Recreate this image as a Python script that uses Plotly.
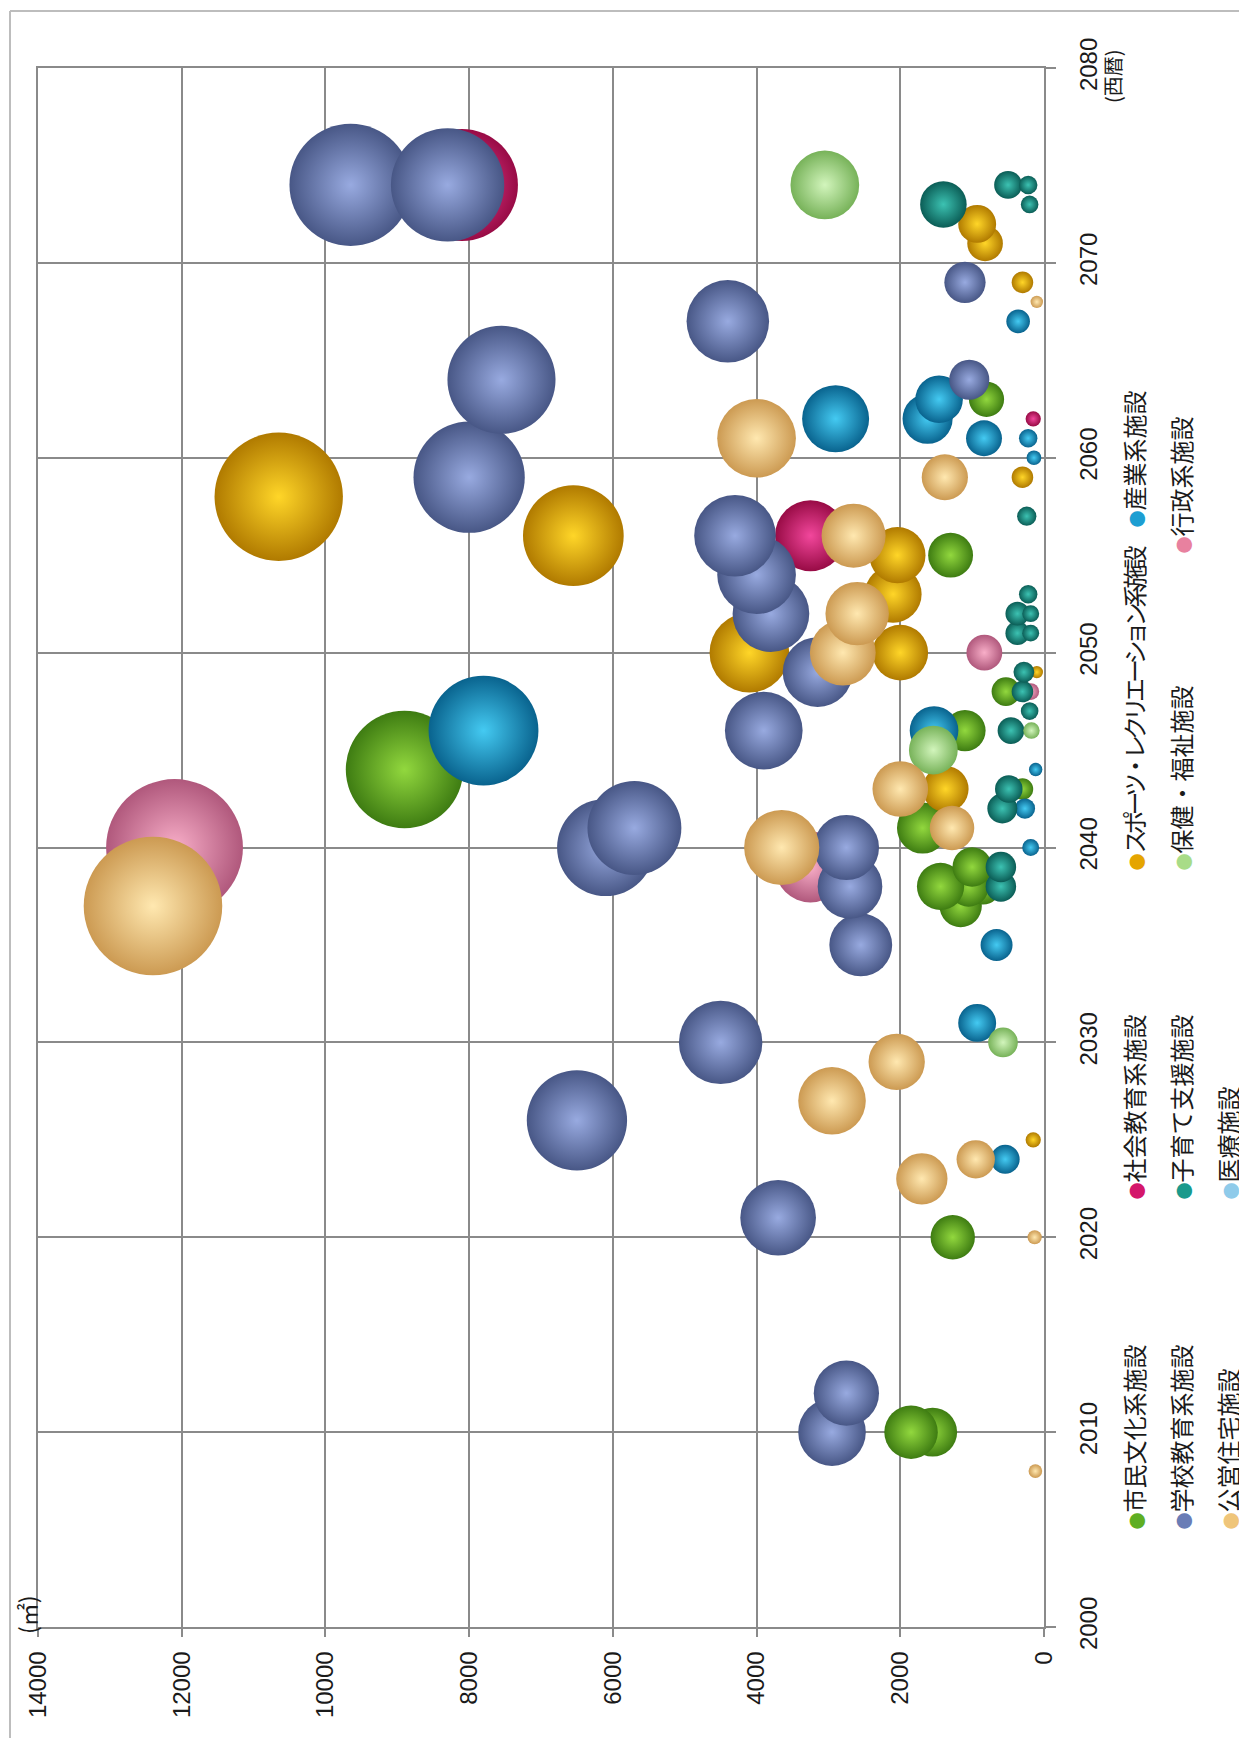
import numpy as np
import plotly.graph_objects as go

# ---------------- data (year, floor area m2) ----------------
year_ticks = [2000, 2010, 2020, 2030, 2040, 2050, 2060, 2070, 2080]
area_ticks = [0, 2000, 4000, 6000, 8000, 10000, 12000, 14000]

shimin_years = [2010, 2010, 2020, 2037, 2038, 2038, 2038, 2039, 2041, 2043, 2044, 2046, 2048, 2055, 2063]
shimin_area = [1550, 1850, 1270, 1160, 850, 1050, 1440, 1000, 1690, 300, 8900, 1100, 530, 1300, 800]

gakko_years = [2010, 2012, 2021, 2026, 2030, 2035, 2038, 2040, 2040, 2041, 2046, 2049, 2052, 2054, 2056,
               2059, 2064, 2064, 2067, 2069, 2074, 2074]
gakko_area = [2950, 2750, 3700, 6500, 4500, 2550, 2700, 2750, 6100, 5700, 3900, 3150, 3800, 4000, 4300,
              8000, 7550, 1040, 4400, 1100, 9650, 8300]

jutaku_years = [2008, 2020, 2023, 2024, 2027, 2029, 2037, 2040, 2041, 2043, 2050, 2052, 2056, 2059, 2061, 2068]
jutaku_area = [120, 130, 1700, 950, 2950, 2050, 12400, 3650, 1280, 2000, 2800, 2600, 2650, 1380, 4000, 100]

shakai_years = [2056, 2062, 2074]
shakai_area = [3250, 150, 8100]

kosodate_years = [2038, 2039, 2042, 2043, 2046, 2047, 2048, 2049, 2051, 2051, 2052, 2052, 2053, 2057,
                  2073, 2073, 2074, 2074]
kosodate_area = [600, 600, 580, 490, 460, 200, 300, 280, 370, 185, 370, 185, 220, 240,
                 1400, 200, 500, 220]

iryo_years = []
iryo_area = []

sports_years = [2025, 2043, 2049, 2050, 2050, 2053, 2055, 2056, 2058, 2059, 2069, 2071, 2072]
sports_area = [150, 1370, 100, 4100, 2000, 2100, 2040, 6550, 10650, 300, 300, 820, 930]

hoken_years = [2030, 2045, 2046, 2074]
hoken_area = [570, 1540, 175, 3050]

sangyo_years = [2024, 2031, 2035, 2040, 2042, 2044, 2046, 2046, 2060, 2061, 2061, 2062, 2062, 2063, 2067]
sangyo_area = [540, 930, 660, 185, 265, 116, 7800, 1530, 140, 835, 220, 2900, 1620, 1460, 360]

gyosei_years = [2039, 2040, 2048, 2050]
gyosei_area = [3250, 12100, 185, 830]

series = {
    "市民文化系施設": (shimin_years, shimin_area),
    "学校教育系施設": (gakko_years, gakko_area),
    "公営住宅施設": (jutaku_years, jutaku_area),
    "社会教育系施設": (shakai_years, shakai_area),
    "子育て支援施設": (kosodate_years, kosodate_area),
    "医療施設": (iryo_years, iryo_area),
    "スポーツ・レクリエーション系施設": (sports_years, sports_area),
    "保健・福祉施設": (hoken_years, hoken_area),
    "産業系施設": (sangyo_years, sangyo_area),
    "行政系施設": (gyosei_years, gyosei_area),
}

# ---------------- styles ----------------
# (sphere centre colour, sphere rim colour, legend colour)
styles = {
    "市民文化系施設": ("#92D83E", "#3E7C12", "#5FAE22"),
    "学校教育系施設": ("#98AAE0", "#485786", "#6A7DB6"),
    "公営住宅施設": ("#FFE8B0", "#CC9A52", "#EFC57A"),
    "社会教育系施設": ("#F2479C", "#980B45", "#D4176A"),
    "子育て支援施設": ("#3CC2B2", "#0B5D56", "#1A9A8C"),
    "医療施設": ("#BCE3F5", "#5A9EC6", "#8FCBEA"),
    "スポーツ・レクリエーション系施設": ("#FFD628", "#B07A00", "#E5A500"),
    "保健・福祉施設": ("#D2F5BC", "#77B259", "#A8DC88"),
    "産業系施設": ("#44CAF2", "#09638E", "#1D9ED2"),
    "行政系施設": ("#F8AEC8", "#B0587C", "#E8819F"),
}
draw_order = ["市民文化系施設", "社会教育系施設", "行政系施設", "スポーツ・レクリエーション系施設",
              "産業系施設", "学校教育系施設", "子育て支援施設", "保健・福祉施設", "医療施設", "公営住宅施設"]

K = 1.244  # bubble diameter (px) per sqrt(m2): bubble area proportional to floor area
GRID = "#8A8A8A"
OFF = 8  # page offset of the plot div (body margin)
W, H = 1247 - OFF, 1738 - OFF
PL, PT, PR, PB = 38, 68, 1044, 1627  # plot area in page pixels
ML, MT = PL - OFF, PT - OFF
PW, PH = PR - PL, PB - PT
MR, MB = W - ML - PW, H - MT - PH


def px_x(px):
    return (px - PL) / PW


def px_y(py):
    return (PB - py) / PH


fig = go.Figure()
for name in draw_order:
    yrs, vals = series[name]
    centre, rim, _ = styles[name]
    fig.add_trace(go.Scatter(
        x=vals, y=yrs, mode="markers", name=name, showlegend=False,
        cliponaxis=False,
        marker=dict(size=[K * np.sqrt(v) for v in vals], sizemode="diameter",
                    color=rim, opacity=1,
                    gradient=dict(type="radial", color=centre),
                    line=dict(width=0)),
    ))

tickfont = dict(family="Liberation Sans, Arial, sans-serif", size=24, color="#1A1A1A")
fig.update_layout(
    width=W, height=H,
    margin=dict(l=ML, r=MR, t=MT, b=MB, autoexpand=False),
    paper_bgcolor="white", plot_bgcolor="white",
    xaxis=dict(range=[14000, 0], autorange=False, tickmode="array", tickvals=area_ticks,
               ticktext=[str(v) for v in area_ticks], tickangle=-90,
               showgrid=True, gridcolor=GRID, gridwidth=1.5, zeroline=False,
               showline=True, linecolor=GRID, linewidth=1.5, mirror=True,
               ticks="outside", ticklen=8, tickcolor=GRID, tickwidth=1.5,
               tickfont=tickfont, ticklabelstandoff=5),
    yaxis=dict(range=[2000, 2080], autorange=False, tickmode="array", tickvals=year_ticks,
               ticktext=[str(v) for v in year_ticks], side="right", tickangle=-90,
               showgrid=True, gridcolor=GRID, gridwidth=1.5, zeroline=False,
               showline=True, linecolor=GRID, linewidth=1.5, mirror=True,
               ticks="outside", ticklen=10, tickcolor=GRID, tickwidth=1.5,
               tickfont=tickfont, ticklabelstandoff=12),
    font=dict(family="Noto Sans CJK JP, sans-serif", color="#1A1A1A"),
)

# outer chart frame (left and top edges visible in the reference)
fig.add_shape(type="line", xref="paper", yref="paper", x0=px_x(10), x1=px_x(10), y0=px_y(11), y1=px_y(1760),
              line=dict(color="#BDBDBD", width=2))
fig.add_shape(type="line", xref="paper", yref="paper", x0=px_x(10), x1=px_x(1260), y0=px_y(11), y1=px_y(11),
              line=dict(color="#BDBDBD", width=2))

# axis unit labels
fig.add_annotation(text="(㎡)", xref="paper", yref="paper", x=px_x(27), y=px_y(1615), textangle=-90,
                   showarrow=False, font=dict(family="Noto Sans CJK JP", size=23, color="#1A1A1A"),
                   xanchor="center", yanchor="middle")
fig.add_annotation(text="(西暦)", xref="paper", yref="paper", x=px_x(1112), y=px_y(76), textangle=-90,
                   showarrow=False, font=dict(family="Noto Sans CJK JP", size=20, color="#1A1A1A"),
                   xanchor="center", yanchor="middle")

# legend (rotated, drawn as annotations)
legend_pos = {
    "市民文化系施設": (1133, 1532), "学校教育系施設": (1180, 1532), "公営住宅施設": (1227, 1532),
    "社会教育系施設": (1133, 1202), "子育て支援施設": (1180, 1202), "医療施設": (1227, 1202),
    "スポーツ・レクリエーション系施設": (1133, 873), "保健・福祉施設": (1180, 873),
    "産業系施設": (1133, 530), "行政系施設": (1180, 556),
}
for name, (lx, ly) in legend_pos.items():
    col = styles[name][2]
    label = name
    if len(name) > 10:
        label = f"<span style='letter-spacing:-5px'>{name}</span>"
    fig.add_annotation(
        text=f"<span style='color:{col};font-size:17px'>●</span>{label}",
        xref="paper", yref="paper", x=px_x(lx), y=px_y(ly), textangle=-90,
        showarrow=False, xanchor="center", yanchor="bottom",
        font=dict(family="Noto Sans CJK JP", size=24, color="#1A1A1A"))

fig.write_html("out.html")
